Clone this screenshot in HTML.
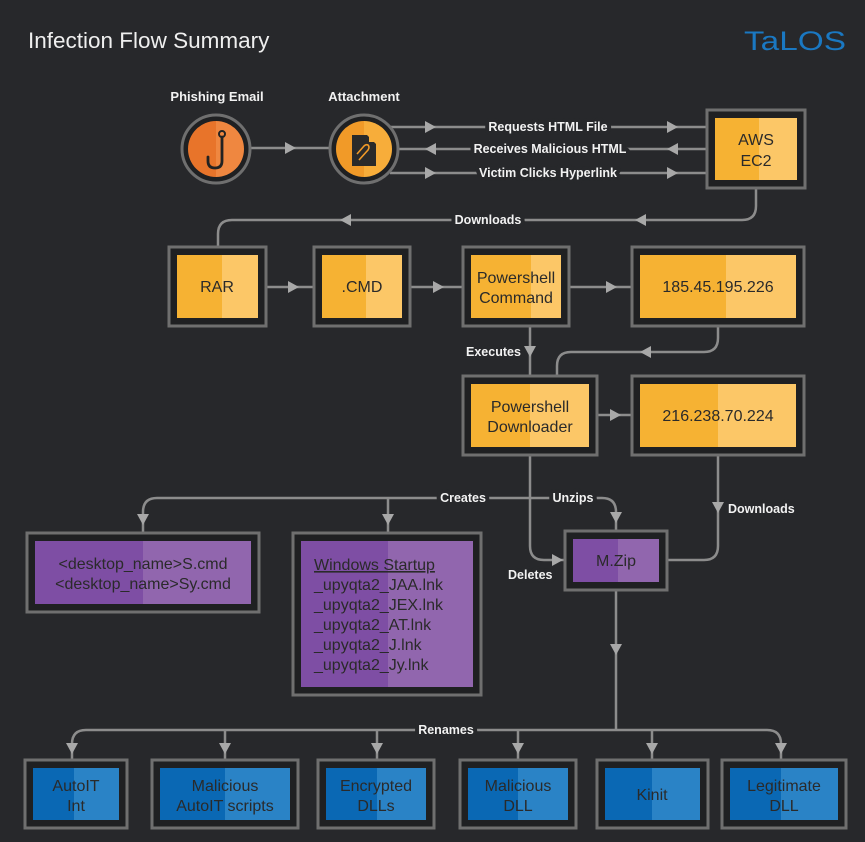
<!DOCTYPE html>
<html><head><meta charset="utf-8"><style>
html,body{margin:0;padding:0;background:#27282b;}
svg{display:block;font-family:"Liberation Sans",sans-serif;}
.ln{fill:none;stroke:#8c8c8c;stroke-width:2.5;}
.ar{fill:#a8a8a8;}
.ob{fill:#1f2022;stroke:#6f6f6f;stroke-width:3;}
.lb{fill:#f2f2f2;font-size:12.5px;font-weight:bold;stroke:#27282b;stroke-width:8px;paint-order:stroke;stroke-linejoin:round;}
.bt{fill:#2a2a2a;font-size:16px;text-anchor:middle;}
.bl{fill:#2a2a2a;font-size:16px;}
</style></head><body>
<svg width="865" height="842" viewBox="0 0 865 842">
<rect width="865" height="842" fill="#27282b"/>
<text x="28" y="48" fill="#efefef" font-size="22.5">Infection Flow Summary</text>
<text x="744" y="50" fill="#1a78c2" font-size="27" textLength="102" lengthAdjust="spacingAndGlyphs">TaLOS</text>

<!-- connectors -->
<path class="ln" d="M250,148 H330"/>
<path class="ln" d="M390,127 H708 M398,149 H708 M390,173 H708"/>
<path class="ln" d="M756,188 V206 Q756,220 742,220 H232 Q218,220 218,234 V247"/>
<path class="ln" d="M266,287 H314 M410,287 H463 M569,287 H632"/>
<path class="ln" d="M530,327 V376"/>
<path class="ln" d="M718,327 V338 Q718,352 704,352 H571 Q557,352 557,366 V376"/>
<path class="ln" d="M597,415 H632"/>
<path class="ln" d="M143,533 V512 Q143,498 157,498 H602 Q616,498 616,512 V531 M388,498 V533"/>
<path class="ln" d="M530,455 V546 Q530,560 544,560 H565"/>
<path class="ln" d="M718,455 V546 Q718,560 704,560 H667"/>
<path class="ln" d="M616,590 V730"/>
<path class="ln" d="M72,760 V744 Q72,730 86,730 H767 Q781,730 781,744 V760 M225,730 V760 M377,730 V760 M518,730 V760 M652,730 V760"/>

<!-- arrows -->
<g class="ar">
<polygon points="285,142 296,148 285,154"/>
<polygon points="425,121 436,127 425,133"/><polygon points="667,121 678,127 667,133"/>
<polygon points="436,143 425,149 436,155"/><polygon points="678,143 667,149 678,155"/>
<polygon points="425,167 436,173 425,179"/><polygon points="667,167 678,173 667,179"/>
<polygon points="646,214 635,220 646,226"/><polygon points="351,214 340,220 351,226"/>
<polygon points="288,281 299,287 288,293"/><polygon points="433,281 444,287 433,293"/><polygon points="606,281 617,287 606,293"/>
<polygon points="524,346 530,357 536,346"/>
<polygon points="651,346 640,352 651,358"/>
<polygon points="610,409 621,415 610,421"/>
<polygon points="137,514 143,525 149,514"/><polygon points="382,514 388,525 394,514"/><polygon points="610,512 616,523 622,512"/>
<polygon points="712,502 718,513 724,502"/>
<polygon points="552,554 563,560 552,566"/>
<polygon points="610,644 616,655 622,644"/>
<polygon points="66,743 72,754 78,743"/><polygon points="219,743 225,754 231,743"/><polygon points="371,743 377,754 383,743"/><polygon points="512,743 518,754 524,743"/><polygon points="646,743 652,754 658,743"/><polygon points="775,743 781,754 787,743"/>
</g>

<!-- labels -->
<text class="lb" x="548" y="131" text-anchor="middle">Requests HTML File</text>
<text class="lb" x="550" y="153" text-anchor="middle">Receives Malicious HTML</text>
<text class="lb" x="548" y="177" text-anchor="middle">Victim Clicks Hyperlink</text>
<text class="lb" x="488" y="224" text-anchor="middle">Downloads</text>
<text class="lb" x="466" y="356">Executes</text>
<text class="lb" x="463" y="502" text-anchor="middle">Creates</text>
<text class="lb" x="573" y="502" text-anchor="middle">Unzips</text>
<text class="lb" x="728" y="513">Downloads</text>
<text class="lb" x="508" y="579">Deletes</text>
<text class="lb" x="446" y="734" text-anchor="middle">Renames</text>
<text x="217" y="101" fill="#f2f2f2" font-size="13" font-weight="bold" text-anchor="middle">Phishing Email</text>
<text x="364" y="101" fill="#f2f2f2" font-size="13" font-weight="bold" text-anchor="middle">Attachment</text>

<!-- circles -->
<circle cx="216" cy="149" r="34" fill="#1f2022" stroke="#6f6f6f" stroke-width="3"/>
<path d="M216,121 A28,28 0 0 0 216,177 Z" fill="#e8742a"/><path d="M216,121 A28,28 0 0 1 216,177 Z" fill="#ef8740"/>
<path d="M222,137 V161 Q222,168 215,168 Q208,168 208,161 V157" fill="none" stroke="#222" stroke-width="2.8" stroke-linecap="round"/>
<circle cx="222" cy="134" r="3" fill="none" stroke="#222" stroke-width="2"/>
<circle cx="364" cy="149" r="34" fill="#1f2022" stroke="#6f6f6f" stroke-width="3"/>
<path d="M364,121 A28,28 0 0 0 364,177 Z" fill="#f19a28"/><path d="M364,121 A28,28 0 0 1 364,177 Z" fill="#f7ad3a"/>
<path d="M352,135 H367 L376,144 V166 H352 Z" fill="#2a2a2a"/><path d="M369,135 L376,142 H369 Z" fill="#f7ad3a"/>
<path d="M359,160 L368,150 Q370,147 368,145 Q366,144 364,146 L357,154" fill="none" stroke="#f19a28" stroke-width="1.6"/>

<!-- orange boxes -->
<rect class="ob" x="707" y="110" width="98" height="78"/><rect x="715" y="118" width="44" height="62" fill="#f6b233"/><rect x="759" y="118" width="38" height="62" fill="#fcc767"/>
<text class="bt" x="756" y="145">AWS</text><text class="bt" x="756" y="166">EC2</text>

<rect class="ob" x="169" y="247" width="97" height="79"/><rect x="177" y="255" width="45" height="63" fill="#f6b233"/><rect x="222" y="255" width="36" height="63" fill="#fcc767"/>
<text class="bt" x="217" y="292">RAR</text>
<rect class="ob" x="314" y="247" width="96" height="79"/><rect x="322" y="255" width="44" height="63" fill="#f6b233"/><rect x="366" y="255" width="36" height="63" fill="#fcc767"/>
<text class="bt" x="362" y="292">.CMD</text>
<rect class="ob" x="463" y="247" width="106" height="79"/><rect x="471" y="255" width="60" height="63" fill="#f6b233"/><rect x="531" y="255" width="30" height="63" fill="#fcc767"/>
<text class="bt" x="516" y="283">Powershell</text><text class="bt" x="516" y="303">Command</text>
<rect class="ob" x="632" y="247" width="172" height="79"/><rect x="640" y="255" width="86" height="63" fill="#f6b233"/><rect x="726" y="255" width="70" height="63" fill="#fcc767"/>
<text class="bt" x="718" y="292">185.45.195.226</text>
<rect class="ob" x="463" y="376" width="134" height="79"/><rect x="471" y="384" width="59" height="63" fill="#f6b233"/><rect x="530" y="384" width="59" height="63" fill="#fcc767"/>
<text class="bt" x="530" y="412">Powershell</text><text class="bt" x="530" y="432">Downloader</text>
<rect class="ob" x="632" y="376" width="172" height="79"/><rect x="640" y="384" width="78" height="63" fill="#f6b233"/><rect x="718" y="384" width="78" height="63" fill="#fcc767"/>
<text class="bt" x="718" y="421">216.238.70.224</text>

<!-- purple boxes -->
<rect class="ob" x="27" y="533" width="232" height="79"/><rect x="35" y="541" width="108" height="63" fill="#7e4ea4"/><rect x="143" y="541" width="108" height="63" fill="#9166ae"/>
<text class="bt" x="143" y="569">&lt;desktop_name&gt;S.cmd</text><text class="bt" x="143" y="589">&lt;desktop_name&gt;Sy.cmd</text>
<rect class="ob" x="293" y="533" width="188" height="162"/><rect x="301" y="541" width="87" height="146" fill="#7e4ea4"/><rect x="388" y="541" width="85" height="146" fill="#9166ae"/>
<text class="bl" x="314" y="570" text-decoration="underline">Windows Startup</text>
<text class="bl" x="314" y="590">_upyqta2_JAA.lnk</text>
<text class="bl" x="314" y="610">_upyqta2_JEX.lnk</text>
<text class="bl" x="314" y="630">_upyqta2_AT.lnk</text>
<text class="bl" x="314" y="650">_upyqta2_J.lnk</text>
<text class="bl" x="314" y="670">_upyqta2_Jy.lnk</text>
<rect class="ob" x="565" y="531" width="102" height="59"/><rect x="573" y="539" width="45" height="43" fill="#7e4ea4"/><rect x="618" y="539" width="41" height="43" fill="#9166ae"/>
<text class="bt" x="616" y="566">M.Zip</text>

<!-- blue boxes -->
<rect class="ob" x="25" y="760" width="102" height="68"/><rect x="33" y="768" width="41" height="52" fill="#0a68b4"/><rect x="74" y="768" width="45" height="52" fill="#2a83c6"/>
<text class="bt" x="76" y="791">AutoIT</text><text class="bt" x="76" y="811">Int</text>
<rect class="ob" x="152" y="760" width="146" height="68"/><rect x="160" y="768" width="65" height="52" fill="#0a68b4"/><rect x="225" y="768" width="65" height="52" fill="#2a83c6"/>
<text class="bt" x="225" y="791">Malicious</text><text class="bt" x="225" y="811">AutoIT scripts</text>
<rect class="ob" x="318" y="760" width="116" height="68"/><rect x="326" y="768" width="51" height="52" fill="#0a68b4"/><rect x="377" y="768" width="49" height="52" fill="#2a83c6"/>
<text class="bt" x="376" y="791">Encrypted</text><text class="bt" x="376" y="811">DLLs</text>
<rect class="ob" x="460" y="760" width="116" height="68"/><rect x="468" y="768" width="50" height="52" fill="#0a68b4"/><rect x="518" y="768" width="50" height="52" fill="#2a83c6"/>
<text class="bt" x="518" y="791">Malicious</text><text class="bt" x="518" y="811">DLL</text>
<rect class="ob" x="597" y="760" width="111" height="68"/><rect x="605" y="768" width="47" height="52" fill="#0a68b4"/><rect x="652" y="768" width="48" height="52" fill="#2a83c6"/>
<text class="bt" x="652" y="800">Kinit</text>
<rect class="ob" x="722" y="760" width="124" height="68"/><rect x="730" y="768" width="51" height="52" fill="#0a68b4"/><rect x="781" y="768" width="57" height="52" fill="#2a83c6"/>
<text class="bt" x="784" y="791">Legitimate</text><text class="bt" x="784" y="811">DLL</text>
</svg>
</body></html>
